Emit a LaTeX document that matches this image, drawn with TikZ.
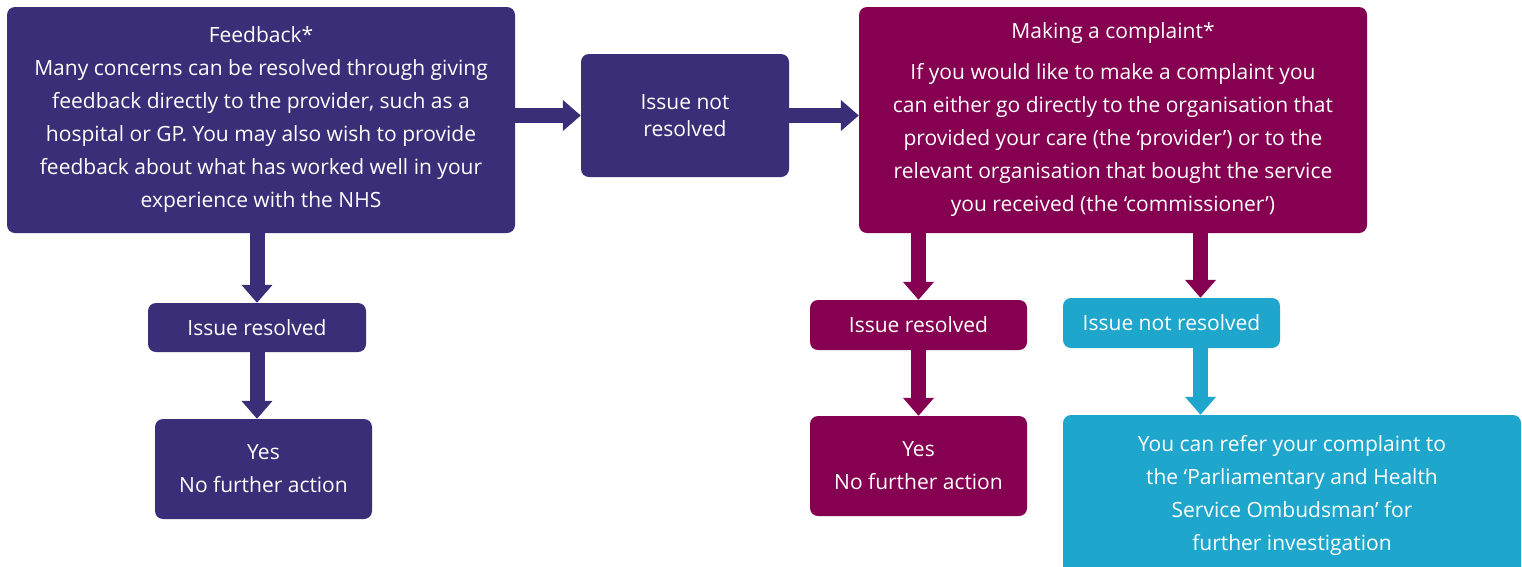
\documentclass[tikz,border=0pt]{standalone}
\usepackage{fontspec}
\setmainfont{Open Sans}
\usetikzlibrary{arrows.meta}
\definecolor{fbpurple}{RGB}{59,46,120}
\definecolor{cpmaroon}{RGB}{133,0,81}
\definecolor{obcyan}{RGB}{31,166,204}
\tikzset{box/.style={fill=#1, text=white, rounded corners=8pt, inner sep=0pt, align=center,
    font=\fontsize{21}{33}\selectfont},
  arr/.style={draw=#1, line width=15pt, -{Triangle[width=30pt,length=18pt]}}}
\begin{document}
\begin{tikzpicture}[x=1pt,y=-1pt]
\useasboundingbox (0,0) rectangle (1522,566);
\node[box=fbpurple, minimum width=508, minimum height=226] (fb) at (261,120)
  {Feedback*\\Many concerns can be resolved through giving\\feedback directly to the provider, such as a\\hospital or GP. You may also wish to provide\\feedback about what has worked well in your\\experience with the NHS};
\node[box=fbpurple, minimum width=208, minimum height=123, font=\fontsize{21}{27}\selectfont] (inr1) at (685,115.5) {Issue not\\resolved};
\node[box=cpmaroon, minimum width=508, minimum height=226] (cmp) at (1113,120)
  {Making a complaint*\\[8pt]If you would like to make a complaint you\\can either go directly to the organisation that\\provided your care (the ‘provider’) or to the\\relevant organisation that bought the service\\you received (the ‘commissioner’)};
\node[box=fbpurple, minimum width=218, minimum height=49] (ir1) at (257,327.5) {Issue resolved};
\node[box=fbpurple, minimum width=217, minimum height=100] (yes1) at (263.5,469) {Yes\\No further action};
\node[box=cpmaroon, minimum width=217, minimum height=50] (ir2) at (918.5,325) {Issue resolved};
\node[box=cpmaroon, minimum width=217, minimum height=100] (yes2) at (918.5,466) {Yes\\No further action};
\node[box=obcyan, minimum width=217, minimum height=50] (inr2) at (1171.5,323) {Issue not resolved};
\node[box=obcyan, minimum width=458, minimum height=160] (omb) at (1292,495)
  {You can refer your complaint to\\the ‘Parliamentary and Health\\Service Ombudsman’ for\\further investigation};
\draw[arr=fbpurple] (fb.east |- inr1) -- (inr1.west);
\draw[arr=fbpurple] (inr1.east) -- (cmp.west |- inr1);
\draw[arr=fbpurple] (ir1.north |- fb.south) -- (ir1.north);
\draw[arr=fbpurple] (ir1.south) -- (ir1.south |- yes1.north);
\draw[arr=cpmaroon] (ir2.north |- cmp.south) -- (ir2.north);
\draw[arr=cpmaroon] (ir2.south) -- (yes2.north);
\draw[arr=cpmaroon] ([xshift=29pt]inr2.north |- cmp.south) -- ([xshift=29pt]inr2.north);
\draw[arr=obcyan] ([xshift=29pt]inr2.south) -- ([xshift=29pt]inr2.south |- omb.north);
\end{tikzpicture}
\end{document}
